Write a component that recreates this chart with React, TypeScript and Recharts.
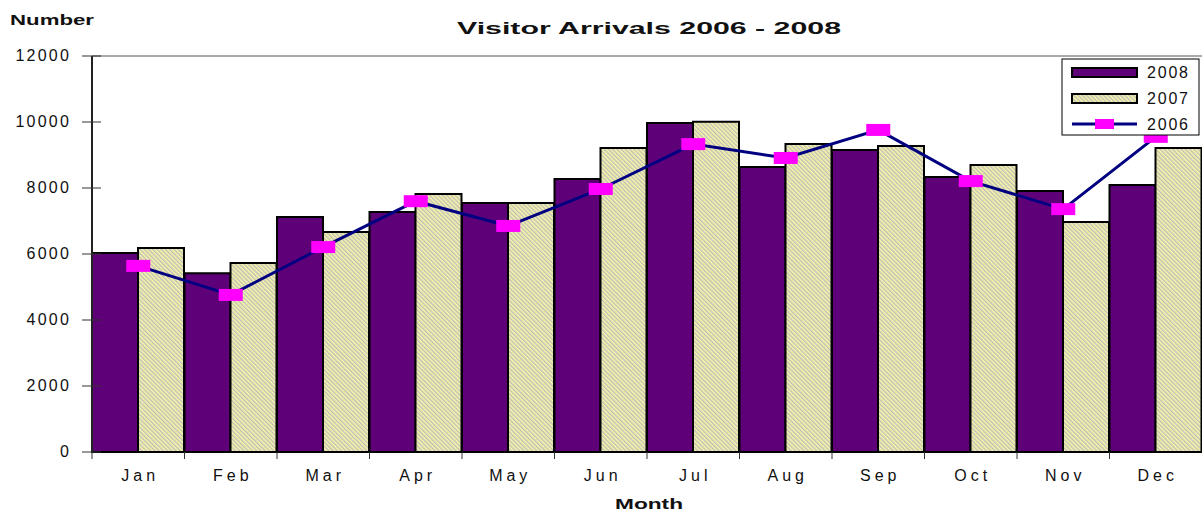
import React from 'react';
import { ComposedChart, Bar, Line, XAxis, YAxis, ReferenceLine } from 'recharts';

const months = ['Jan', 'Feb', 'Mar', 'Apr', 'May', 'Jun', 'Jul', 'Aug', 'Sep', 'Oct', 'Nov', 'Dec'];
const arrivals2008 = [6030, 5420, 7120, 7270, 7545, 8270, 9970, 8640, 9150, 8330, 7910, 8090];
const arrivals2007 = [6180, 5730, 6670, 7820, 7545, 9210, 10010, 9330, 9270, 8700, 6970, 9210];
const arrivals2006 = [5640, 4760, 6210, 7600, 6850, 7970, 9330, 8910, 9760, 8210, 7360, 9550];
const yTicks = [0, 2000, 4000, 6000, 8000, 10000, 12000];

const data = months.map((month, i) => ({
  month,
  y2008: arrivals2008[i],
  y2007: arrivals2007[i],
  y2006: arrivals2006[i],
}));

const FONT = '"Liberation Sans", Arial, sans-serif';
const PURPLE = '#5E0078';
const NAVY = '#000080';
const MAGENTA = '#FF00FF';

const HatchDefs = ({ id }: { id: string }) => (
  <defs>
    <pattern id={id} patternUnits="userSpaceOnUse" width={3} height={3} patternTransform="rotate(-45)">
      <rect x={0} y={0} width={3} height={3} fill="#F8F6A8" />
      <rect x={0} y={0} width={1.4} height={3} fill="#BEBEB8" />
    </pattern>
  </defs>
);

const YTick = (props: any) => {
  const { x, y, payload } = props;
  return (
    <g>
      <line x1={x + 12} x2={x + 31} y1={y} y2={y} stroke="#333" strokeWidth={1} />
      <text x={x + 1} y={y} dy={5} textAnchor="end" fontFamily={FONT} fontSize={16} letterSpacing={2.2} fill="#111">
        {payload.value}
      </text>
    </g>
  );
};

const XTick = (props: any) => {
  const { x, y, payload, width, visibleTicksCount } = props;
  const band = width / (visibleTicksCount || months.length);
  const left = x - band / 2;
  return (
    <g>
      <line x1={left} x2={left} y1={y - 8} y2={y - 1} stroke="#333" strokeWidth={1} />
      <text x={x + 2} y={y} dy={21} textAnchor="middle" fontFamily={FONT} fontSize={16} letterSpacing={4} fill="#111">
        {payload.value}
      </text>
    </g>
  );
};

const MarkerDot = (props: any) => {
  const { cx, cy, index } = props;
  if (cx == null || cy == null) return null;
  return <rect key={`dot-${index}`} x={cx - 12} y={cy - 6} width={24} height={12} fill={MAGENTA} />;
};

const LegendBox = () => (
  <svg width={140} height={78} style={{ position: 'absolute', left: 1061, top: 58 }}>
    <HatchDefs id="legendHatch" />
    <rect x={1} y={1} width={137} height={76} fill="#fff" stroke="#000" strokeWidth={1} />
    <rect x={11} y={10} width={65} height={9} fill={PURPLE} stroke="#000" strokeWidth={2} />
    <rect x={11} y={36} width={65} height={9} fill="url(#legendHatch)" stroke="#000" strokeWidth={2} />
    <line x1={11} x2={76} y1={66} y2={66} stroke={NAVY} strokeWidth={3} />
    <rect x={34} y={61} width={19} height={10} fill={MAGENTA} />
    {['2008', '2007', '2006'].map((t, i) => (
      <text key={t} x={86} y={20 + i * 26} fontFamily={FONT} fontSize={16} letterSpacing={1.8} fill="#111">
        {t}
      </text>
    ))}
  </svg>
);

export default function App() {
  return (
    <div style={{ position: 'absolute', left: 0, top: 0, width: 1202, height: 513, background: '#fff' }}>
      <ComposedChart
        width={1202}
        height={513}
        data={data}
        margin={{ top: 56, right: 0, bottom: 0, left: 0 }}
        barCategoryGap={0}
        barGap={0}
      >
        <HatchDefs id="hatch2007" />
        <XAxis
          dataKey="month"
          axisLine={{ stroke: '#000', strokeWidth: 2 }}
          tickLine={false}
          tick={<XTick />}
          interval={0}
          height={61}
        />
        <YAxis
          domain={[0, 12000]}
          ticks={yTicks}
          width={92}
          axisLine={{ stroke: '#222', strokeWidth: 2 }}
          tickLine={false}
          tickSize={10}
          tickMargin={12}
          tick={<YTick />}
          interval={0}
        />
        <ReferenceLine y={12000} stroke="#555" strokeWidth={1} />
        <Bar dataKey="y2008" fill={PURPLE} stroke="#000" strokeWidth={2} isAnimationActive={false} />
        <Bar dataKey="y2007" fill="url(#hatch2007)" stroke="#000" strokeWidth={2} isAnimationActive={false} />
        <Line
          type="linear"
          dataKey="y2006"
          stroke={NAVY}
          strokeWidth={3}
          dot={<MarkerDot />}
          activeDot={false}
          isAnimationActive={false}
        />
      </ComposedChart>
      <svg width={1202} height={513} style={{ position: 'absolute', left: 0, top: 0, pointerEvents: 'none' }}>
        <text x={10} y={25} fontFamily={FONT} fontWeight="bold" fontSize={15} textLength={84} lengthAdjust="spacingAndGlyphs" fill="#111">
          Number
        </text>
        <text x={457} y={34} fontFamily={FONT} fontWeight="bold" fontSize={16} textLength={384} lengthAdjust="spacingAndGlyphs" fill="#111">
          Visitor Arrivals 2006 - 2008
        </text>
        <text x={615} y={509} fontFamily={FONT} fontWeight="bold" fontSize={15} textLength={68} lengthAdjust="spacingAndGlyphs" fill="#111">
          Month
        </text>
      </svg>
      <LegendBox />
    </div>
  );
}
